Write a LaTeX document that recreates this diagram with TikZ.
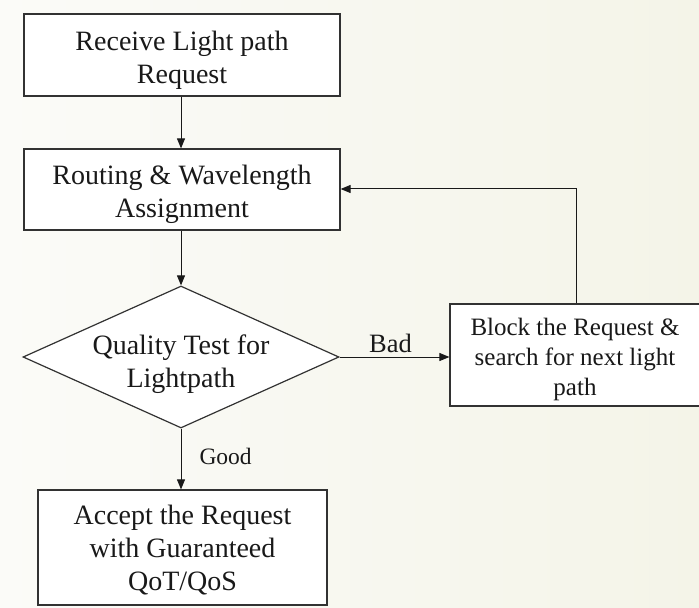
\documentclass[tikz,border=0pt]{standalone}
\usepackage{fontspec}
\setmainfont{Liberation Serif}
\usetikzlibrary{arrows.meta,shapes.geometric}
\definecolor{bgleft}{RGB}{251,251,248}
\definecolor{bgright}{RGB}{244,244,232}
\definecolor{ink}{RGB}{25,25,25}
\definecolor{edge}{RGB}{50,50,50}
\tikzset{
  box/.style={draw=edge, line width=1.2bp, fill=white, inner sep=0pt},
  bigtext/.style={font=\fontsize{28bp}{33bp}\selectfont, text=ink, align=center, inner sep=0pt},
  smalltext/.style={font=\fontsize{25bp}{30bp}\selectfont, text=ink, align=center, inner sep=0pt},
  flow/.style={draw=ink, line width=1bp, -{Triangle[width=8bp,length=10bp]}}
}
\begin{document}
\begin{tikzpicture}[x=1bp,y=-1bp]
  % page and background wash
  \useasboundingbox (0,0) rectangle (699,608);
  \shade[left color=bgleft, right color=bgright] (0,0) rectangle (699,608);

  % process boxes
  \node[box, minimum width=316bp, minimum height=82bp] (recv) at (182,55) {};
  \node[bigtext] (recvtxt) at (182,60) {Receive Light path\\Request};

  \node[box, minimum width=316bp, minimum height=81bp] (rwa) at (182,189.5) {};
  \node[bigtext] (rwatxt) at (182,194) {Routing \& Wavelength\\Assignment};

  % decision
  \node[diamond, draw=edge, line width=1.2bp, fill=white, inner sep=0pt,
        minimum width=316bp, minimum height=142bp] (test) at (181,357) {};
  \node[bigtext] (testtxt) at (181,364) {Quality Test for\\Lightpath};

  % outcomes
  \node[box, minimum width=289bp, minimum height=115bp] (accept) at (182.5,547.5) {};
  \node[bigtext] (accepttxt) at (182.5,550.5) {Accept the Request\\with Guaranteed\\QoT/QoS};

  \node[box, minimum width=254bp, minimum height=102bp] (block) at (577,355) {};
  \node[smalltext] (blocktxt) at (575,359) {Block the Request \&\\search for next light\\path};

  % connectors
  \draw[flow] (recv.south -| 181,0) -- (rwa.north -| 181,0);
  \draw[flow] (rwa.south -| 181,0) -- (test.north);
  \draw[flow] (test.east) -- (block.west |- test.east)
    node[midway, above=4bp, xshift=-4bp, font=\fontsize{26.5bp}{30bp}\selectfont, text=ink, inner sep=0pt] (bad) {Bad};
  \draw[flow] (test.south) -- (accept.north -| test.south)
    node[pos=0.45, right=18bp, font=\fontsize{23.5bp}{27bp}\selectfont, text=ink, inner sep=0pt] (good) {Good};
  \coordinate (up) at (576,189);
  \draw[flow] (block.north -| up) -- (up) -- (rwa.east |- up);
\end{tikzpicture}
\end{document}
